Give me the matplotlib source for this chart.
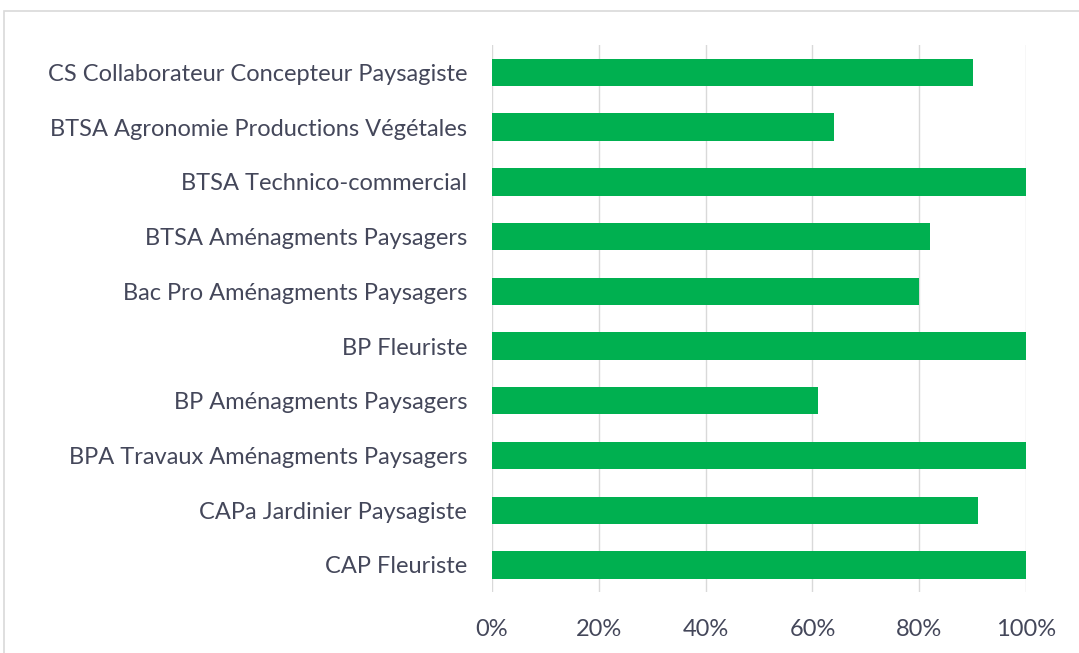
import matplotlib.pyplot as plt
from matplotlib.patches import Rectangle
from matplotlib.ticker import PercentFormatter

# formations, listed top to bottom
categories = [
    "CS Collaborateur Concepteur Paysagiste",
    "BTSA Agronomie Productions Végétales",
    "BTSA Technico-commercial",
    "BTSA Aménagments Paysagers",
    "Bac Pro Aménagments Paysagers",
    "BP Fleuriste",
    "BP Aménagments Paysagers",
    "BPA Travaux Aménagments Paysagers",
    "CAPa Jardinier Paysagiste",
    "CAP Fleuriste",
]
values = [90, 64, 100, 82, 80, 100, 61, 100, 91, 100]
xticks = [0, 20, 40, 60, 80, 100]

plt.rcParams['font.family'] = ['Lato', 'DejaVu Sans']

fig = plt.figure(figsize=(10.79, 6.53), dpi=100)
ax = fig.add_axes([0.456, 0.093, 0.495, 0.838])

# light frame around the whole chart
fig.patches.append(Rectangle((0.004, -0.05), 1.05, 1.033, transform=fig.transFigure,
                             fill=False, edgecolor='#d9d9d9', linewidth=1.2))

ypos = list(range(len(categories)))[::-1]
ax.barh(ypos, values, height=0.5, color='#00b050', zorder=2)

ax.set_xlim(0, 100)
ax.set_ylim(-0.5, len(categories) - 0.5)
ax.set_xticks(xticks)
ax.xaxis.set_major_formatter(PercentFormatter(decimals=0))
ax.set_yticks(ypos)
ax.set_yticklabels(categories)

ax.grid(axis='x', color='#d9d9d9', linewidth=1, zorder=0)
for s in ax.spines.values():
    s.set_visible(False)
ax.tick_params(axis='both', length=0, labelsize=17, colors='#44475a')
ax.tick_params(axis='y', pad=18)
ax.tick_params(axis='x', pad=19)

fig.savefig('out.png', dpi=100)
